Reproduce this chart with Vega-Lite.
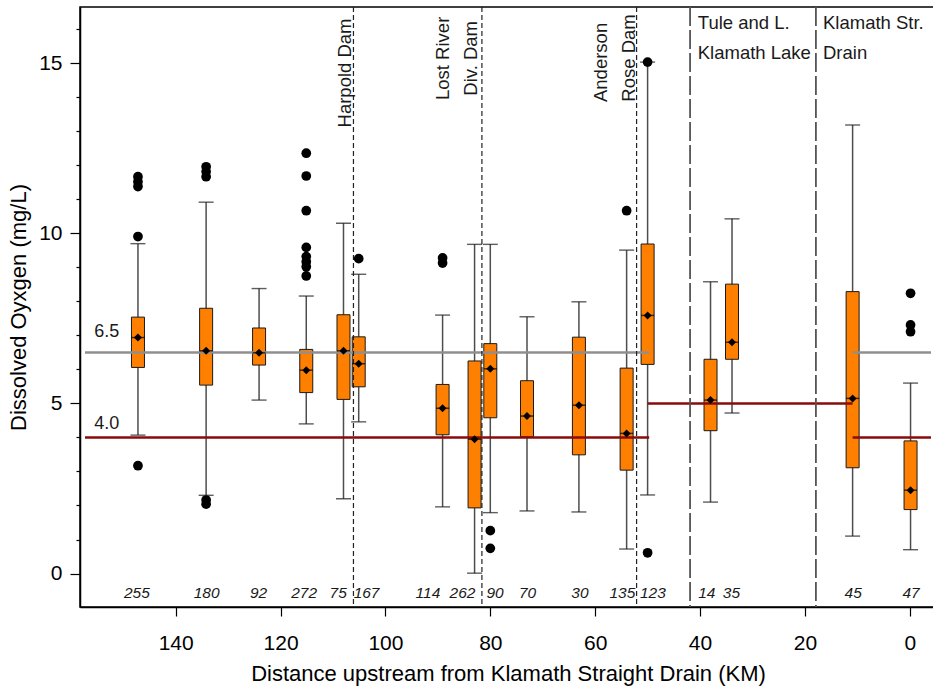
{
  "$schema": "https://vega.github.io/schema/vega-lite/v6.json",
  "width": 856,
  "height": 600,
  "autosize": {"type": "none"},
  "padding": {"left": 80, "top": 7, "right": 0, "bottom": 82},
  "background": "white",
  "config": {
    "font": "Liberation Sans",
    "view": {"stroke": "black", "strokeWidth": 1.5},
    "axis": {"domainColor": "black", "domainWidth": 1.5, "tickColor": "black", "tickWidth": 1.2, "labelColor": "black", "titleColor": "black", "titleFontWeight": "normal", "grid": false, "labelFont": "Liberation Sans", "titleFont": "Liberation Sans"}
  },
  "datasets": {
    "boxes": [
      {"km": 147.2, "q1": 6.06, "q3": 7.54, "med": 6.94, "lo": 4.07, "hi": 9.70},
      {"km": 134.2, "q1": 5.54, "q3": 7.80, "med": 6.55, "lo": 2.30, "hi": 10.92},
      {"km": 124.1, "q1": 6.13, "q3": 7.22, "med": 6.49, "lo": 5.10, "hi": 8.38},
      {"km": 115.1, "q1": 5.32, "q3": 6.59, "med": 5.98, "lo": 4.40, "hi": 8.16},
      {"km": 108.0, "q1": 5.12, "q3": 7.61, "med": 6.55, "lo": 2.20, "hi": 10.30},
      {"km": 105.1, "q1": 5.49, "q3": 6.96, "med": 6.17, "lo": 4.46, "hi": 8.80},
      {"km": 89.1, "q1": 4.08, "q3": 5.56, "med": 4.86, "lo": 1.96, "hi": 7.60},
      {"km": 83.0, "q1": 1.93, "q3": 6.25, "med": 3.95, "lo": 0.01, "hi": 9.68},
      {"km": 80.0, "q1": 4.58, "q3": 6.76, "med": 6.02, "lo": 1.79, "hi": 9.68},
      {"km": 73.0, "q1": 4.02, "q3": 5.67, "med": 4.63, "lo": 1.84, "hi": 7.55},
      {"km": 63.1, "q1": 3.49, "q3": 6.95, "med": 4.95, "lo": 1.81, "hi": 7.99},
      {"km": 54.0, "q1": 3.04, "q3": 6.04, "med": 4.12, "lo": 0.72, "hi": 9.51},
      {"km": 50.0, "q1": 6.15, "q3": 9.69, "med": 7.59, "lo": 2.31, "hi": 15.04},
      {"km": 38.0, "q1": 4.20, "q3": 6.30, "med": 5.10, "lo": 2.10, "hi": 8.58},
      {"km": 33.9, "q1": 6.30, "q3": 8.51, "med": 6.80, "lo": 4.72, "hi": 10.43},
      {"km": 10.9, "q1": 3.11, "q3": 8.29, "med": 5.15, "lo": 1.10, "hi": 13.19},
      {"km": -0.15, "q1": 1.88, "q3": 3.90, "med": 2.45, "lo": 0.70, "hi": 5.60}
    ],
    "counts": [
      {"km": 147.4, "n": "255"}, {"km": 134.1, "n": "180"}, {"km": 124.2, "n": "92"},
      {"km": 115.5, "n": "272"}, {"km": 109.0, "n": "75"}, {"km": 103.6, "n": "167"},
      {"km": 91.9, "n": "114"}, {"km": 85.3, "n": "262"}, {"km": 79.1, "n": "90"},
      {"km": 72.9, "n": "70"}, {"km": 62.9, "n": "30"}, {"km": 54.8, "n": "135"},
      {"km": 49.0, "n": "123"}, {"km": 38.7, "n": "14"}, {"km": 34.0, "n": "35"},
      {"km": 10.8, "n": "45"}, {"km": -0.25, "n": "47"}
    ],
    "outliers": [
      {"km": 147.2, "v": 3.17}, {"km": 147.2, "v": 11.67}, {"km": 147.2, "v": 11.52}, {"km": 147.2, "v": 11.38}, {"km": 147.2, "v": 9.91},
      {"km": 134.2, "v": 2.16}, {"km": 134.2, "v": 2.04}, {"km": 134.2, "v": 11.96}, {"km": 134.2, "v": 11.82}, {"km": 134.2, "v": 11.67},
      {"km": 115.1, "v": 12.36}, {"km": 115.1, "v": 11.69}, {"km": 115.1, "v": 10.67}, {"km": 115.1, "v": 9.59}, {"km": 115.1, "v": 9.32}, {"km": 115.1, "v": 9.17}, {"km": 115.1, "v": 9.02}, {"km": 115.1, "v": 8.75},
      {"km": 105.1, "v": 9.26},
      {"km": 89.1, "v": 9.28}, {"km": 89.1, "v": 9.13},
      {"km": 80.0, "v": 1.26}, {"km": 80.0, "v": 0.74},
      {"km": 54.0, "v": 10.67},
      {"km": 50.0, "v": 15.04}, {"km": 50.0, "v": 0.61},
      {"km": -0.15, "v": 8.24}, {"km": -0.15, "v": 7.31}, {"km": -0.15, "v": 7.11}
    ],
    "grey": [
      {"km": 157.3, "km2": 49.7, "v": 6.5},
      {"km": 10.9, "km2": -4.05, "v": 6.5}
    ],
    "red": [
      {"km": 157.3, "km2": 49.7, "v": 4.0},
      {"km": 50.0, "km2": 10.9, "v": 5.0},
      {"km": 10.9, "km2": -4.05, "v": 4.0}
    ],
    "dams": [{"km": 106.1}, {"km": 81.6}, {"km": 52.1}],
    "bounds": [{"km": 41.9}, {"km": 17.9}],
    "vlabels": [
      {"km": 106.5, "v": 14.72, "t": "Harpold Dam"},
      {"km": 87.9, "v": 15.15, "t": "Lost River"},
      {"km": 82.5, "v": 15.15, "t": "Div. Dam"},
      {"km": 57.7, "v": 15.03, "t": "Anderson"},
      {"km": 52.4, "v": 15.16, "t": "Rose Dam"}
    ],
    "hlabels": [
      {"km": 40.43, "v": 16.01, "t": "Tule and L."},
      {"km": 40.43, "v": 15.13, "t": "Klamath Lake"},
      {"km": 16.55, "v": 16.01, "t": "Klamath Str."},
      {"km": 16.55, "v": 15.13, "t": "Drain"}
    ],
    "levels": [
      {"km": 155.55, "v": 6.95, "t": "6.5"},
      {"km": 155.55, "v": 4.24, "t": "4.0"}
    ]
  },
  "encoding": {
    "x": {
      "field": "km", "type": "quantitative",
      "scale": {"domain": [-4.05, 157.3], "reverse": true, "nice": false, "zero": false},
      "axis": {"values": [0, 20, 40, 60, 80, 100, 120, 140], "format": "d", "labelFontSize": 21, "titleFontSize": 22, "tickSize": 9, "labelPadding": 16, "titlePadding": 10},
      "title": "Distance upstream from Klamath Straight Drain (KM)"
    }
  },
  "layer": [
    {
      "data": {"name": "boxes"},
      "mark": {"type": "rule", "color": "#4d4d4d", "strokeWidth": 1.5},
      "encoding": {
        "y": {"field": "lo", "type": "quantitative", "scale": {"domain": [-0.985, 16.66], "nice": false, "zero": false},
          "axis": {"values": [0,1,2,3,4,5,6,7,8,9,10,11,12,13,14,15,16], "labelExpr": "datum.value % 5 === 0 ? datum.label : ''", "tickSize": {"condition": {"test": "datum.value % 5 === 0", "value": 10}, "value": 4}, "labelFontSize": 21, "titleFontSize": 22, "labelPadding": 8, "titlePadding": 8},
          "title": "Dissolved Oyxgen (mg/L)"},
        "y2": {"field": "hi"}
      }
    },
    {
      "data": {"name": "boxes"},
      "mark": {"type": "bar", "orient": "vertical", "size": 13, "fill": "#FF8000", "stroke": "#1a1a1a", "strokeWidth": 1},
      "encoding": {
        "y": {"field": "q1", "type": "quantitative", "scale": {"domain": [-0.985, 16.66], "nice": false, "zero": false},
          "axis": {"values": [0,1,2,3,4,5,6,7,8,9,10,11,12,13,14,15,16], "labelExpr": "datum.value % 5 === 0 ? datum.label : ''", "tickSize": {"condition": {"test": "datum.value % 5 === 0", "value": 10}, "value": 4}, "labelFontSize": 21, "titleFontSize": 22, "labelPadding": 8, "titlePadding": 8},
          "title": "Dissolved Oyxgen (mg/L)"},
        "y2": {"field": "q3"}
      }
    },
    {
      "data": {"name": "grey"},
      "mark": {"type": "rule", "color": "#8f8f8f", "strokeWidth": 2.5},
      "encoding": {
        "x2": {"field": "km2"},
        "y": {"field": "v", "type": "quantitative", "scale": {"domain": [-0.985, 16.66], "nice": false, "zero": false},
          "axis": {"values": [0,1,2,3,4,5,6,7,8,9,10,11,12,13,14,15,16], "labelExpr": "datum.value % 5 === 0 ? datum.label : ''", "tickSize": {"condition": {"test": "datum.value % 5 === 0", "value": 10}, "value": 4}, "labelFontSize": 21, "titleFontSize": 22, "labelPadding": 8, "titlePadding": 8},
          "title": "Dissolved Oyxgen (mg/L)"}
      }
    },
    {
      "data": {"name": "red"},
      "mark": {"type": "rule", "color": "#8b0a0a", "strokeWidth": 2.5},
      "encoding": {
        "x2": {"field": "km2"},
        "y": {"field": "v", "type": "quantitative", "scale": {"domain": [-0.985, 16.66], "nice": false, "zero": false},
          "axis": {"values": [0,1,2,3,4,5,6,7,8,9,10,11,12,13,14,15,16], "labelExpr": "datum.value % 5 === 0 ? datum.label : ''", "tickSize": {"condition": {"test": "datum.value % 5 === 0", "value": 10}, "value": 4}, "labelFontSize": 21, "titleFontSize": 22, "labelPadding": 8, "titlePadding": 8},
          "title": "Dissolved Oyxgen (mg/L)"}
      }
    },
    {
      "data": {"name": "dams"},
      "mark": {"type": "rule", "color": "#222222", "strokeWidth": 1.2, "strokeDash": [5, 3]},
      "encoding": {}
    },
    {
      "data": {"name": "bounds"},
      "mark": {"type": "rule", "color": "#555555", "strokeWidth": 1.8, "strokeDash": [19, 4]},
      "encoding": {}
    },
    {
      "data": {"name": "boxes"},
      "mark": {"type": "tick", "orient": "horizontal", "size": 13, "thickness": 1.5, "color": "black"},
      "encoding": {
        "y": {"field": "med", "type": "quantitative", "scale": {"domain": [-0.985, 16.66], "nice": false, "zero": false},
          "axis": {"values": [0,1,2,3,4,5,6,7,8,9,10,11,12,13,14,15,16], "labelExpr": "datum.value % 5 === 0 ? datum.label : ''", "tickSize": {"condition": {"test": "datum.value % 5 === 0", "value": 10}, "value": 4}, "labelFontSize": 21, "titleFontSize": 22, "labelPadding": 8, "titlePadding": 8},
          "title": "Dissolved Oyxgen (mg/L)"}
      }
    },
    {
      "data": {"name": "boxes"},
      "mark": {"type": "tick", "orient": "horizontal", "size": 15, "thickness": 1.4, "color": "#1a1a1a"},
      "encoding": {
        "y": {"field": "lo", "type": "quantitative", "scale": {"domain": [-0.985, 16.66], "nice": false, "zero": false},
          "axis": {"values": [0,1,2,3,4,5,6,7,8,9,10,11,12,13,14,15,16], "labelExpr": "datum.value % 5 === 0 ? datum.label : ''", "tickSize": {"condition": {"test": "datum.value % 5 === 0", "value": 10}, "value": 4}, "labelFontSize": 21, "titleFontSize": 22, "labelPadding": 8, "titlePadding": 8},
          "title": "Dissolved Oyxgen (mg/L)"}
      }
    },
    {
      "data": {"name": "boxes"},
      "mark": {"type": "tick", "orient": "horizontal", "size": 15, "thickness": 1.4, "color": "#1a1a1a"},
      "encoding": {
        "y": {"field": "hi", "type": "quantitative", "scale": {"domain": [-0.985, 16.66], "nice": false, "zero": false},
          "axis": {"values": [0,1,2,3,4,5,6,7,8,9,10,11,12,13,14,15,16], "labelExpr": "datum.value % 5 === 0 ? datum.label : ''", "tickSize": {"condition": {"test": "datum.value % 5 === 0", "value": 10}, "value": 4}, "labelFontSize": 21, "titleFontSize": 22, "labelPadding": 8, "titlePadding": 8},
          "title": "Dissolved Oyxgen (mg/L)"}
      }
    },
    {
      "data": {"name": "boxes"},
      "mark": {"type": "point", "shape": "diamond", "size": 64, "filled": true, "color": "black", "opacity": 1},
      "encoding": {
        "y": {"field": "med", "type": "quantitative", "scale": {"domain": [-0.985, 16.66], "nice": false, "zero": false},
          "axis": {"values": [0,1,2,3,4,5,6,7,8,9,10,11,12,13,14,15,16], "labelExpr": "datum.value % 5 === 0 ? datum.label : ''", "tickSize": {"condition": {"test": "datum.value % 5 === 0", "value": 10}, "value": 4}, "labelFontSize": 21, "titleFontSize": 22, "labelPadding": 8, "titlePadding": 8},
          "title": "Dissolved Oyxgen (mg/L)"}
      }
    },
    {
      "data": {"name": "outliers"},
      "mark": {"type": "circle", "size": 95, "color": "black", "opacity": 1},
      "encoding": {
        "y": {"field": "v", "type": "quantitative", "scale": {"domain": [-0.985, 16.66], "nice": false, "zero": false},
          "axis": {"values": [0,1,2,3,4,5,6,7,8,9,10,11,12,13,14,15,16], "labelExpr": "datum.value % 5 === 0 ? datum.label : ''", "tickSize": {"condition": {"test": "datum.value % 5 === 0", "value": 10}, "value": 4}, "labelFontSize": 21, "titleFontSize": 22, "labelPadding": 8, "titlePadding": 8},
          "title": "Dissolved Oyxgen (mg/L)"}
      }
    },
    {
      "data": {"name": "counts"},
      "mark": {"type": "text", "fontSize": 15.5, "fontStyle": "italic", "color": "#1a1a1a", "align": "center", "baseline": "alphabetic"},
      "encoding": {
        "y": {"datum": -0.73, "type": "quantitative", "scale": {"domain": [-0.985, 16.66], "nice": false, "zero": false},
          "axis": {"values": [0,1,2,3,4,5,6,7,8,9,10,11,12,13,14,15,16], "labelExpr": "datum.value % 5 === 0 ? datum.label : ''", "tickSize": {"condition": {"test": "datum.value % 5 === 0", "value": 10}, "value": 4}, "labelFontSize": 21, "titleFontSize": 22, "labelPadding": 8, "titlePadding": 8},
          "title": "Dissolved Oyxgen (mg/L)"},
        "text": {"field": "n"}
      }
    },
    {
      "data": {"name": "vlabels"},
      "mark": {"type": "text", "fontSize": 18.5, "angle": 270, "color": "#1a1a1a", "align": "center", "baseline": "alphabetic"},
      "encoding": {
        "y": {"field": "v", "type": "quantitative", "scale": {"domain": [-0.985, 16.66], "nice": false, "zero": false},
          "axis": {"values": [0,1,2,3,4,5,6,7,8,9,10,11,12,13,14,15,16], "labelExpr": "datum.value % 5 === 0 ? datum.label : ''", "tickSize": {"condition": {"test": "datum.value % 5 === 0", "value": 10}, "value": 4}, "labelFontSize": 21, "titleFontSize": 22, "labelPadding": 8, "titlePadding": 8},
          "title": "Dissolved Oyxgen (mg/L)"},
        "text": {"field": "t"}
      }
    },
    {
      "data": {"name": "hlabels"},
      "mark": {"type": "text", "fontSize": 18.5, "color": "#1a1a1a", "align": "left", "baseline": "alphabetic"},
      "encoding": {
        "y": {"field": "v", "type": "quantitative", "scale": {"domain": [-0.985, 16.66], "nice": false, "zero": false},
          "axis": {"values": [0,1,2,3,4,5,6,7,8,9,10,11,12,13,14,15,16], "labelExpr": "datum.value % 5 === 0 ? datum.label : ''", "tickSize": {"condition": {"test": "datum.value % 5 === 0", "value": 10}, "value": 4}, "labelFontSize": 21, "titleFontSize": 22, "labelPadding": 8, "titlePadding": 8},
          "title": "Dissolved Oyxgen (mg/L)"},
        "text": {"field": "t"}
      }
    },
    {
      "data": {"name": "levels"},
      "mark": {"type": "text", "fontSize": 18, "color": "#1a1a1a", "align": "left", "baseline": "alphabetic"},
      "encoding": {
        "y": {"field": "v", "type": "quantitative", "scale": {"domain": [-0.985, 16.66], "nice": false, "zero": false},
          "axis": {"values": [0,1,2,3,4,5,6,7,8,9,10,11,12,13,14,15,16], "labelExpr": "datum.value % 5 === 0 ? datum.label : ''", "tickSize": {"condition": {"test": "datum.value % 5 === 0", "value": 10}, "value": 4}, "labelFontSize": 21, "titleFontSize": 22, "labelPadding": 8, "titlePadding": 8},
          "title": "Dissolved Oyxgen (mg/L)"},
        "text": {"field": "t"}
      }
    }
  ]
}
